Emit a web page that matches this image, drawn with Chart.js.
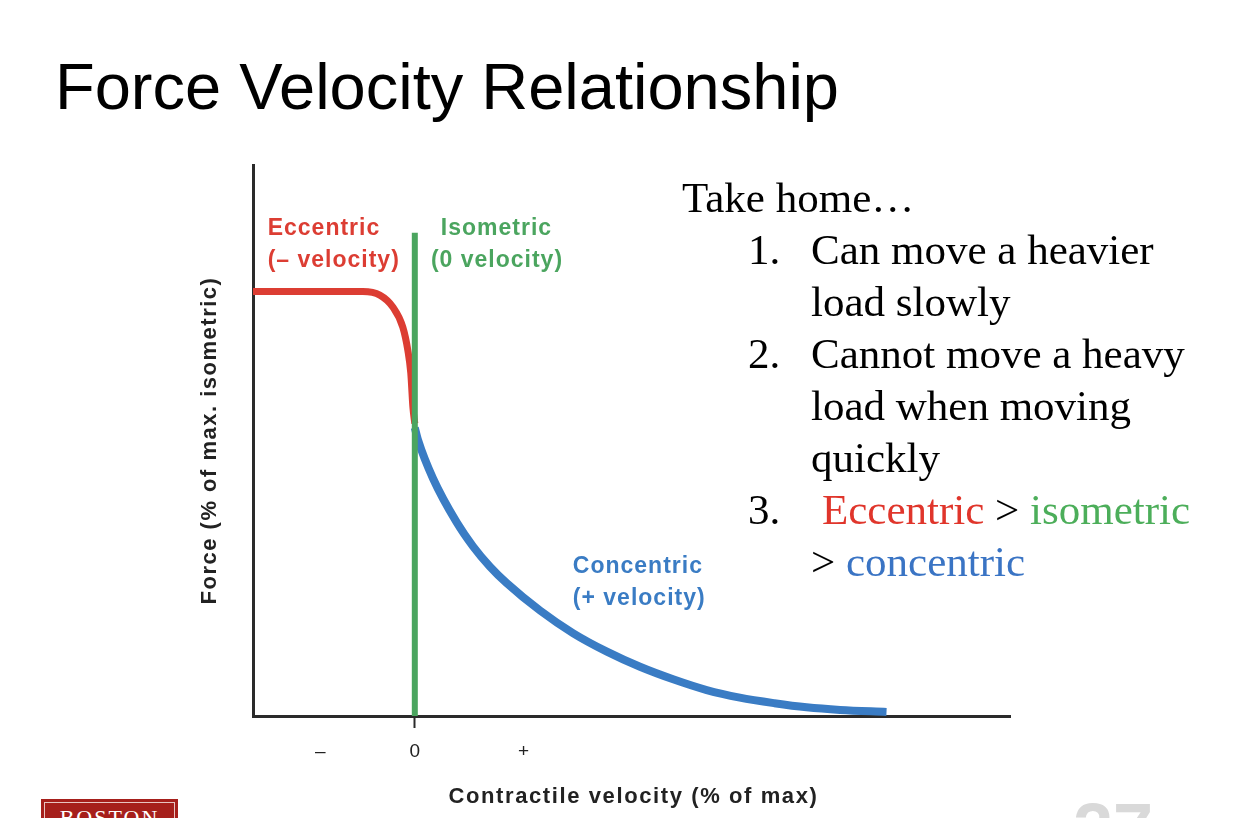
<!DOCTYPE html>
<html>
<head>
<meta charset="utf-8">
<script src="https://cdn.jsdelivr.net/npm/chart.js@4"></script>
<style>
  body { margin: 0; background: #fff; }
  #wrap { position: relative; width: 1248px; height: 818px; overflow: hidden; }
  #chart { position: absolute; left: 0; top: 0; }
  .title { position: absolute; left: 55px; top: 54px; font: 65px "Liberation Sans", Arial, sans-serif; line-height: 1; color: #000; white-space: nowrap; }
  .note { position: absolute; font: 43px "Liberation Serif", "Times New Roman", serif; line-height: 52px; color: #000; white-space: nowrap; }
  .logo { position: absolute; left: 41px; top: 799px; width: 137px; height: 40px; background: #a61f1b; }
  .logo span { position: absolute; left: 3px; top: 3px; right: 3px; bottom: 3px; border: 1px solid #e8c4c0; color: #fff; font: 22px "Liberation Serif", serif; letter-spacing: 2px; text-align: center; line-height: 30px; }
  .pageno { position: absolute; left: 1073px; top: 793px; font: bold 72px "Liberation Sans", Arial, sans-serif; line-height: 1; color: #d9d9d9; }
</style>
</head>
<body>
<div id="wrap">
  <div class="title">Force Velocity Relationship</div>
  <canvas id="chart" width="1248" height="818"></canvas>
  <div class="note" style="left:682px; top:172px">Take home…</div>
  <div class="note" style="left:748px; top:224px">1.</div>
  <div class="note" style="left:811px; top:224px">Can move a heavier</div>
  <div class="note" style="left:811px; top:276px">load slowly</div>
  <div class="note" style="left:748px; top:328px">2.</div>
  <div class="note" style="left:811px; top:328px">Cannot move a heavy</div>
  <div class="note" style="left:811px; top:380px">load when moving</div>
  <div class="note" style="left:811px; top:432px">quickly</div>
  <div class="note" style="left:748px; top:484px">3.</div>
  <div class="note" style="left:822px; top:484px"><span style="color:#e0352b">Eccentric</span> &gt; <span style="color:#4cae5a">isometric</span></div>
  <div class="note" style="left:811px; top:536px">&gt; <span style="color:#3a74c4">concentric</span></div>
  <div class="logo"><span>BOSTON</span></div>
  <div class="pageno">27</div>
</div>
<script>
// curve readings (velocity in % of max, force in % of max isometric)
const eccVelocity = [-34.2, -11.0, -7.4, -4.65, -2.54, -1.48, -0.85, -0.4, 0];
const eccForce    = [145.8, 145.8, 144.6, 140.5, 133.6, 125.7, 117.8, 106, 100.5];

const conVelocity = [0, 0.68, 3.85, 8.86, 12.3, 15.9, 19.4, 26.5, 33.5, 40.6, 47.6, 54.6, 61.7, 68.7, 76.0, 82.8, 89.9, 99.7];
const conForce    = [99, 94.8, 81.6, 66.5, 58.3, 51.3, 45.7, 36.2, 28.4, 22.1, 16.9, 12.6, 8.9, 6.3, 4.4, 3.0, 2.1, 1.4];

const isoVelocity = [0, 0];
const isoForce    = [0, 166];

const tickValues = [-20, 0, 23];
const tickLabels = ['–', '0', '+'];

const xTitle = 'Contractile velocity (% of max)';
const yTitle = 'Force (% of max. isometric)';

const labels = [
  { lines: ['Eccentric', '(– velocity)'], x: -31.1, y: 167.3, color: '#dc3d33' },
  { lines: ['Isometric'], x: 5.5, y: 167.3, color: '#4ba55f' },
  { lines: ['(0 velocity)'], x: 3.4, y: 156.3, color: '#4ba55f' },
  { lines: ['Concentric', '(+ velocity)'], x: 33.4, y: 51.2, color: '#3a7cc4' }
];

const toPoints = (xs, ys) => xs.map((x, i) => ({ x: x, y: ys[i] }));

const labelPlugin = {
  id: 'curveLabels',
  afterDraw(chart) {
    const { ctx, chartArea, scales: { x, y } } = chart;
    ctx.save();
    ctx.font = 'bold 23px "Liberation Sans", Arial, sans-serif';
    ctx.letterSpacing = '1px';
    ctx.textBaseline = 'middle';
    ctx.textAlign = 'left';
    labels.forEach(l => {
      ctx.fillStyle = l.color;
      l.lines.forEach((t, i) => {
        ctx.fillText(t, x.getPixelForValue(l.x), y.getPixelForValue(l.y) + i * 32);
      });
    });

    // axis titles, spaced out like the original figure
    ctx.fillStyle = '#222';
    ctx.textAlign = 'center';
    ctx.letterSpacing = '1.6px';
    ctx.font = 'bold 22px "Liberation Sans", Arial, sans-serif';
    ctx.fillText(xTitle, (chartArea.left + chartArea.right) / 2 + 2, 797);
    ctx.translate(210, (chartArea.top + chartArea.bottom) / 2);
    ctx.rotate(-Math.PI / 2);
    ctx.letterSpacing = '1.5px';
    ctx.fillText(yTitle, 0, 0);
    ctx.restore();
  }
};

new Chart(document.getElementById('chart'), {
  type: 'line',
  data: {
    datasets: [
      {
        label: 'Isometric',
        data: toPoints(isoVelocity, isoForce),
        borderColor: '#4ba55f',
        borderWidth: 6,
        borderCapStyle: 'butt',
        pointRadius: 0
      },
      {
        label: 'Eccentric',
        data: toPoints(eccVelocity, eccForce),
        borderColor: '#dc3d33',
        borderWidth: 7,
        cubicInterpolationMode: 'monotone',
        pointRadius: 0
      },
      {
        label: 'Concentric',
        data: toPoints(conVelocity, conForce),
        borderColor: '#3a7cc4',
        borderWidth: 8,
        borderCapStyle: 'butt',
        cubicInterpolationMode: 'monotone',
        pointRadius: 0
      }
    ]
  },
  options: {
    responsive: false,
    animation: false,
    layout: { padding: { left: 195, top: 165, right: 238, bottom: 6 } },
    plugins: { legend: { display: false }, tooltip: { enabled: false } },
    scales: {
      x: {
        type: 'linear',
        min: -34.2,
        max: 125.8,
        afterFit: s => { s.height = 96; },
        afterBuildTicks: s => { s.ticks = tickValues.map(v => ({ value: v })); },
        border: { color: '#2a2a2a', width: 3 },
        grid: {
          drawOnChartArea: false,
          tickLength: 12,
          tickWidth: 2,
          color: c => (c.tick && c.tick.value === 0 ? '#2a2a2a' : 'rgba(0,0,0,0)')
        },
        ticks: {
          padding: 12,
          color: '#222',
          font: { family: '"Liberation Sans", Arial, sans-serif', size: 19 },
          callback: v => tickLabels[tickValues.indexOf(v)]
        },
        title: { display: false }
      },
      y: {
        type: 'linear',
        min: 0,
        max: 189.3,
        afterFit: s => { s.width = 58; },
        border: { color: '#2a2a2a', width: 3 },
        grid: { display: false },
        ticks: { display: false },
        title: { display: false }
      }
    }
  },
  plugins: [labelPlugin]
});
</script>
</body>
</html>
